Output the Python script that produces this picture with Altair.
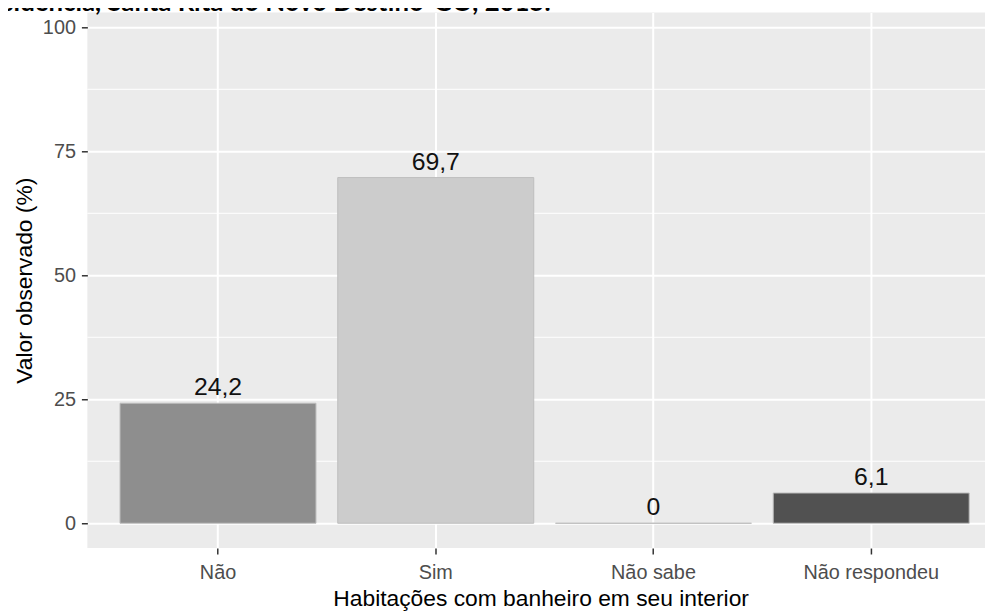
import altair as alt
import pandas as pd

# ---- data ----
categories = ["Não", "Sim", "Não sabe", "Não respondeu"]
values = [24.2, 69.7, 0.0, 6.1]
value_labels = ["24,2", "69,7", "0", "6,1"]
fills = ["#8E8E8E", "#CCCCCC", "#B3B3B3", "#515151"]
y_ticks = [0, 25, 50, 75, 100]
y_minor = [12.5, 37.5, 62.5, 87.5]
title_text = "Gráfico 1 - Habitações com banheiro em seu interior, por residência, Santa Rita do Novo Destino-GO, 2015."
x_title = "Habitações com banheiro em seu interior"
y_title = "Valor observado (%)"

df = pd.DataFrame({"cat": categories, "val": values, "lab": value_labels})
minor_df = pd.DataFrame({"val": y_minor})
title_df = pd.DataFrame({"t": [title_text]})

FONT = "Liberation Sans"

x_scale = alt.Scale(domain=categories, range=[0, 922], paddingInner=0.1, paddingOuter=0.15)
y_scale = alt.Scale(domain=[-5, 103], nice=False, zero=False)

x_axis = alt.Axis(
    title=x_title, grid=True, gridColor="white", gridWidth=2, domain=False,
    ticks=True, tickColor="#333333", tickSize=6, tickWidth=1.5, bandPosition=0.5,
    labelFont=FONT, labelFontSize=20, labelColor="#4D4D4D", labelAngle=0,
    labelBaseline="alphabetic", labelPadding=25,
    titleFont=FONT, titleFontSize=23, titleFontWeight="normal", titleColor="black",
    titleBaseline="alphabetic", titleX=457, titleY=58,
)
y_axis = alt.Axis(
    title=y_title, values=y_ticks, grid=True, gridColor="white", gridWidth=2, domain=False,
    ticks=True, tickColor="#333333", tickSize=6, tickWidth=1.5,
    labelFont=FONT, labelFontSize=20, labelColor="#4D4D4D", labelPadding=6,
    titleFont=FONT, titleFontSize=23, titleFontWeight="normal", titleColor="black",
    titleBaseline="alphabetic", titleX=-56, titleY=270,
)

x_enc = alt.X("cat:N", sort=categories, scale=x_scale, axis=x_axis)
y_enc = alt.Y("val:Q", scale=y_scale, axis=y_axis)

minor = alt.Chart(minor_df).mark_rule(color="white", strokeWidth=1).encode(y=y_enc)

bars = alt.Chart(df).mark_bar(stroke="#BDBDBD", strokeWidth=1).encode(
    x=x_enc,
    y=y_enc,
    color=alt.Color("cat:N", scale=alt.Scale(domain=categories, range=fills), legend=None),
)

labels = alt.Chart(df).mark_text(
    baseline="alphabetic", dy=-8, font=FONT, fontSize=25, color="#111111"
).encode(x=x_enc, y=y_enc, text="lab:N")

title = alt.Chart(title_df).mark_text(
    align="right", baseline="alphabetic", font="Lato", fontWeight="bold",
    fontSize=26, color="black"
).encode(x=alt.value(467), y=alt.value(-1), text="t:N")

chart = alt.layer(minor, bars, labels, title).properties(
    width=905, height=540,
    autosize=alt.AutoSizeParams(type="none"),
    padding={"left": 80, "top": 2, "right": 0, "bottom": 61},
).configure_view(fill="#EBEBEB", stroke=None)

chart.save("out.html", embed_options={"renderer": "svg", "actions": False})
